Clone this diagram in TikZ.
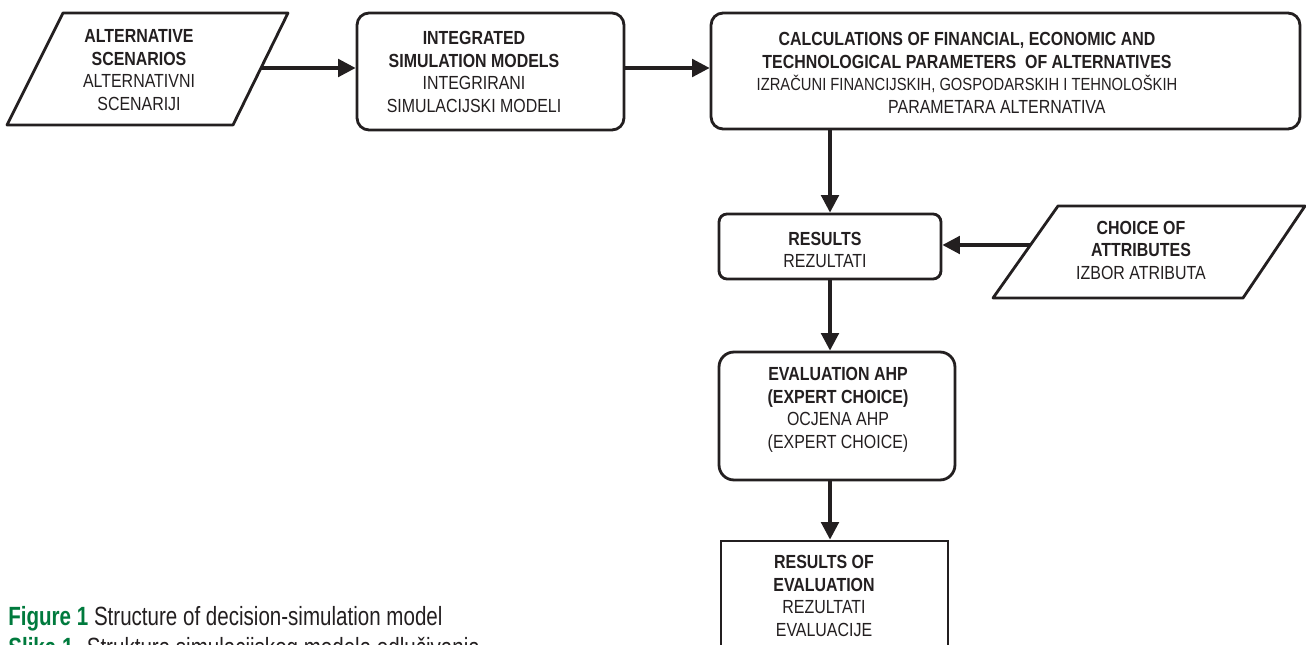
\documentclass[tikz,border=0pt]{standalone}
\usepackage{fontspec}
\setmainfont{Liberation Sans}[FakeStretch=0.84]
\newfontfamily\capfont{Liberation Sans}[FakeStretch=0.78]
\usetikzlibrary{arrows.meta,calc}
\definecolor{inkgray}{RGB}{35,31,32}
\definecolor{figgreen}{RGB}{0,122,61}

\tikzset{
  box/.style={draw=inkgray, line width=1.6pt, inner sep=0pt},
  pgram/.style={draw=inkgray, line width=1.6pt, line join=round},
  txt/.style={align=center, text=inkgray, inner sep=0pt, font=\fontsize{10.8}{12.8}\selectfont},
  flow/.style={draw=inkgray, line width=2pt, -{Triangle[length=10pt,width=10pt]}},
  captxt/.style={anchor=base west, inner sep=0pt, text=inkgray, font=\capfont\fontsize{15}{18}\selectfont}
}

\begin{document}
\begin{tikzpicture}[x=0.02cm, y=-0.02cm]
	\clip (0,0) rectangle (1306,645);

	% input parallelograms
	\draw[pgram] (7,125) -- (63,13) -- (288,13) -- (233,125) -- cycle;
	\draw[pgram] (993,298) -- (1058,206) -- (1305,206) -- (1243,298) -- cycle;
	\coordinate (altout) at (261,68);
	\coordinate (choiceout) at (1030,245);

	% boxes
	\node[box, rounded corners=0.24cm, minimum width=5.34cm, minimum height=2.34cm] (intg) at (490.5,71.5) {};
	\node[box, rounded corners=0.24cm, minimum width=11.78cm, minimum height=2.32cm] (calc) at (1005.5,71) {};
	\node[box, rounded corners=0.16cm, minimum width=4.44cm, minimum height=1.3cm] (res) at (830,246.5) {};
	\node[box, rounded corners=0.3cm, minimum width=4.72cm, minimum height=2.56cm] (eval) at (837,416) {};
	\node[box, minimum width=4.54cm, minimum height=3.6cm] (fin) at (834.5,631) {};

	% texts
	\node[txt] (alttxt) at (139,70) {\textbf{ALTERNATIVE}\\ \textbf{SCENARIOS}\\ ALTERNATIVNI\\ SCENARIJI};
	\node[txt] (intgtxt) at (474,72) {\textbf{INTEGRATED}\\ \textbf{SIMULATION MODELS}\\ INTEGRIRANI\\ SIMULACIJSKI MODELI};
	\node[txt] (calctxt) at (967,73) {\textbf{CALCULATIONS OF FINANCIAL, ECONOMIC AND}\\ \textbf{TECHNOLOGICAL PARAMETERS\ \ OF ALTERNATIVES}\\ {\fontsize{10}{12.8}\selectfont IZRAČUNI FINANCIJSKIH, GOSPODARSKIH I TEHNOLOŠKIH}\\ \hspace*{34pt}PARAMETARA ALTERNATIVA};
	\node[txt] (restxt) at (825,250) {\textbf{RESULTS}\\ REZULTATI};
	\node[txt] (choicetxt) at (1141,250) {\textbf{CHOICE OF}\\ \textbf{ATTRIBUTES}\\ IZBOR ATRIBUTA};
	\node[txt] (evaltxt) at (838,410) {\textbf{EVALUATION AHP}\\ \textbf{(EXPERT CHOICE)}\\ OCJENA AHP\\ (EXPERT CHOICE)};
	\node[txt] (fintxt) at (824,596) {\textbf{RESULTS OF}\\ \textbf{EVALUATION}\\ REZULTATI\\ EVALUACIJE};

	% connectors
	\draw[flow] (altout) -- (altout -| intg.west);
	\draw[flow] (altout -| intg.east) -- (altout -| calc.west);
	\draw[flow] (res.north |- calc.south) -- (res.north);
	\draw[flow] (choiceout) -- (choiceout -| res.east);
	\draw[flow] (res.south) -- (res.south |- eval.north);
	\draw[flow] (res.south |- eval.south) -- (res.south |- fin.north);

	% caption
	\node[captxt] (cap1) at (8,625) {\textcolor{figgreen}{\textbf{Figure 1}} Structure of decision-simulation model};
	\node[captxt] (cap2) at (8,656) {\textcolor{figgreen}{\textbf{Slika 1.}} Struktura simulacijskog modela odlučivanja};
\end{tikzpicture}
\end{document}
